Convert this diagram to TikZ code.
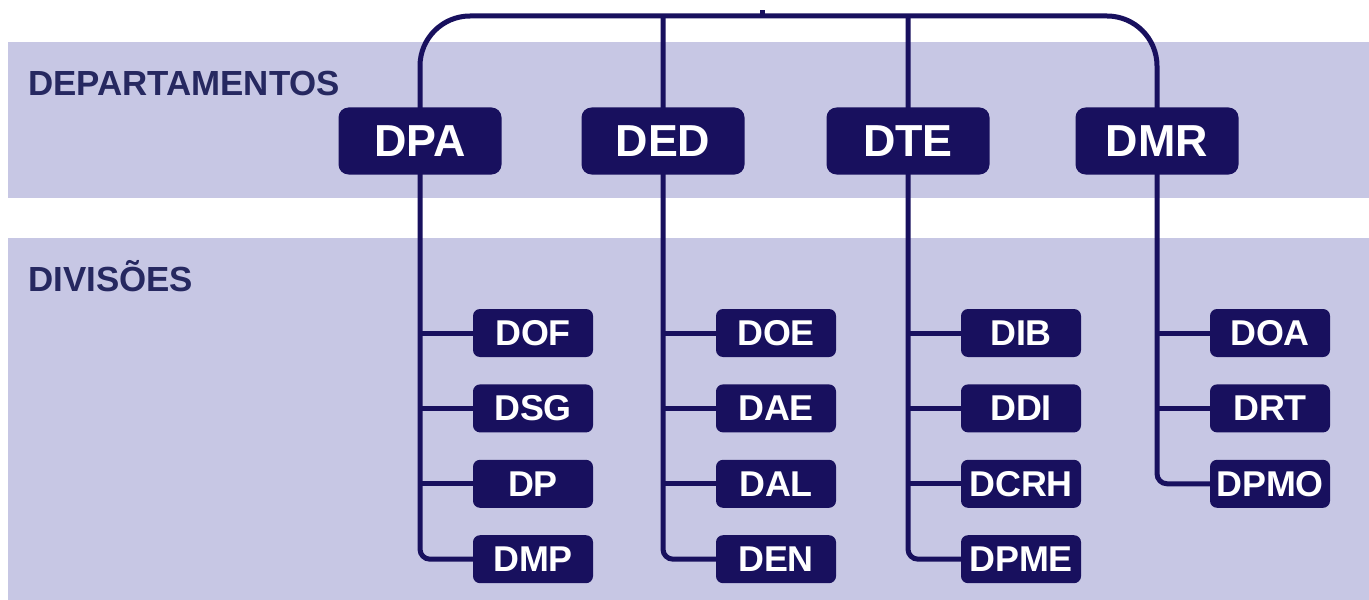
\documentclass[tikz,border=0pt]{standalone}
\usepackage{fontspec}
\setmainfont{Liberation Sans}
\usetikzlibrary{positioning, calc, backgrounds}
\definecolor{navy}{RGB}{24,16,94}
\definecolor{bandc}{RGB}{199,199,228}
\definecolor{labelc}{RGB}{38,40,96}

\begin{document}
\begin{tikzpicture}[x=1bp, y=-1bp,
  dept/.style={fill=navy, rounded corners=10bp, minimum width=163bp, minimum height=67bp,
               inner sep=0pt, text=white, font=\fontsize{45}{45}\selectfont\bfseries},
  div/.style={fill=navy, rounded corners=7bp, minimum width=120bp, minimum height=48bp,
              inner sep=0pt, text=white, font=\fontsize{36}{36}\selectfont\bfseries},
  trunk/.style={draw=navy, line width=5bp},
  tag/.style={anchor=west, inner sep=0pt, text=labelc, font=\fontsize{35}{35}\selectfont\bfseries}
]
\useasboundingbox (0,0) rectangle (1369,600);
%% LABELS
\node[tag] (deplbl) at (28,83)  {DEPARTAMENTOS};
\node[tag] (divlbl) at (28,276) {DIVISÕES};
%% DEPARTAMENTOS
\node[dept] (dpa) at (420,141)  {DPA};
\node[dept] (ded) at (663,141)  {DED};
\node[dept] (dte) at (908,141)  {DTE};
\node[dept] (dmr) at (1157,141) {DMR};
%% DIVISOES DPA
\node[div] (dof) at ($(dpa)+(113,192)$) {DOF};
\node[div,below=27bp of dof] (dsg) {DSG};
\node[div,below=27bp of dsg] (dp)  {DP};
\node[div,below=27bp of dp]  (dmp) {DMP};
%% DIVISOES DED
\node[div] (doe) at ($(ded)+(113,192)$) {DOE};
\node[div,below=27bp of doe] (dae) {DAE};
\node[div,below=27bp of dae] (dal) {DAL};
\node[div,below=27bp of dal] (den) {DEN};
%% DIVISOES DTE
\node[div] (dib) at ($(dte)+(113,192)$) {DIB};
\node[div,below=27bp of dib] (ddi)  {DDI};
\node[div,below=27bp of ddi] (dcrh) {DCRH};
\node[div,below=27bp of dcrh](dpme) {DPME};
%% DIVISOES DMR
\node[div] (doa) at ($(dmr)+(113,192)$) {DOA};
\node[div,below=27bp of doa] (drt)  {DRT};
\node[div,below=27bp of drt] (dpmo) {DPMO};
%% BANDS AND LINES
\begin{pgfonlayer}{background}
\fill[white] (0,0) rectangle (1369,600);
\fill[bandc] (8,42) rectangle (1369,198);
\fill[bandc] (8,238) rectangle (1369,600);
\coordinate (top) at (762,16);
\draw[trunk] (top) -- ++(0,-6);
\draw[trunk, rounded corners=50bp] (dpa.center) |- (top) -| (dmr.center);
\draw[trunk, rounded corners=10bp] (dpa.center) |- (dmp.west);
\draw[trunk, rounded corners=10bp] (ded |- top) |- (den.west);
\draw[trunk, rounded corners=10bp] (dte |- top) |- (dpme.west);
\draw[trunk, rounded corners=10bp] (dmr.center) |- (dpmo.west);
\foreach \d/\p in {dof/dpa, dsg/dpa, dp/dpa, doe/ded, dae/ded, dal/ded,
                   dib/dte, ddi/dte, dcrh/dte, doa/dmr, drt/dmr}
  \draw[trunk] (\p |- \d.west) -- (\d.west);
\end{pgfonlayer}
\end{tikzpicture}
\end{document}
